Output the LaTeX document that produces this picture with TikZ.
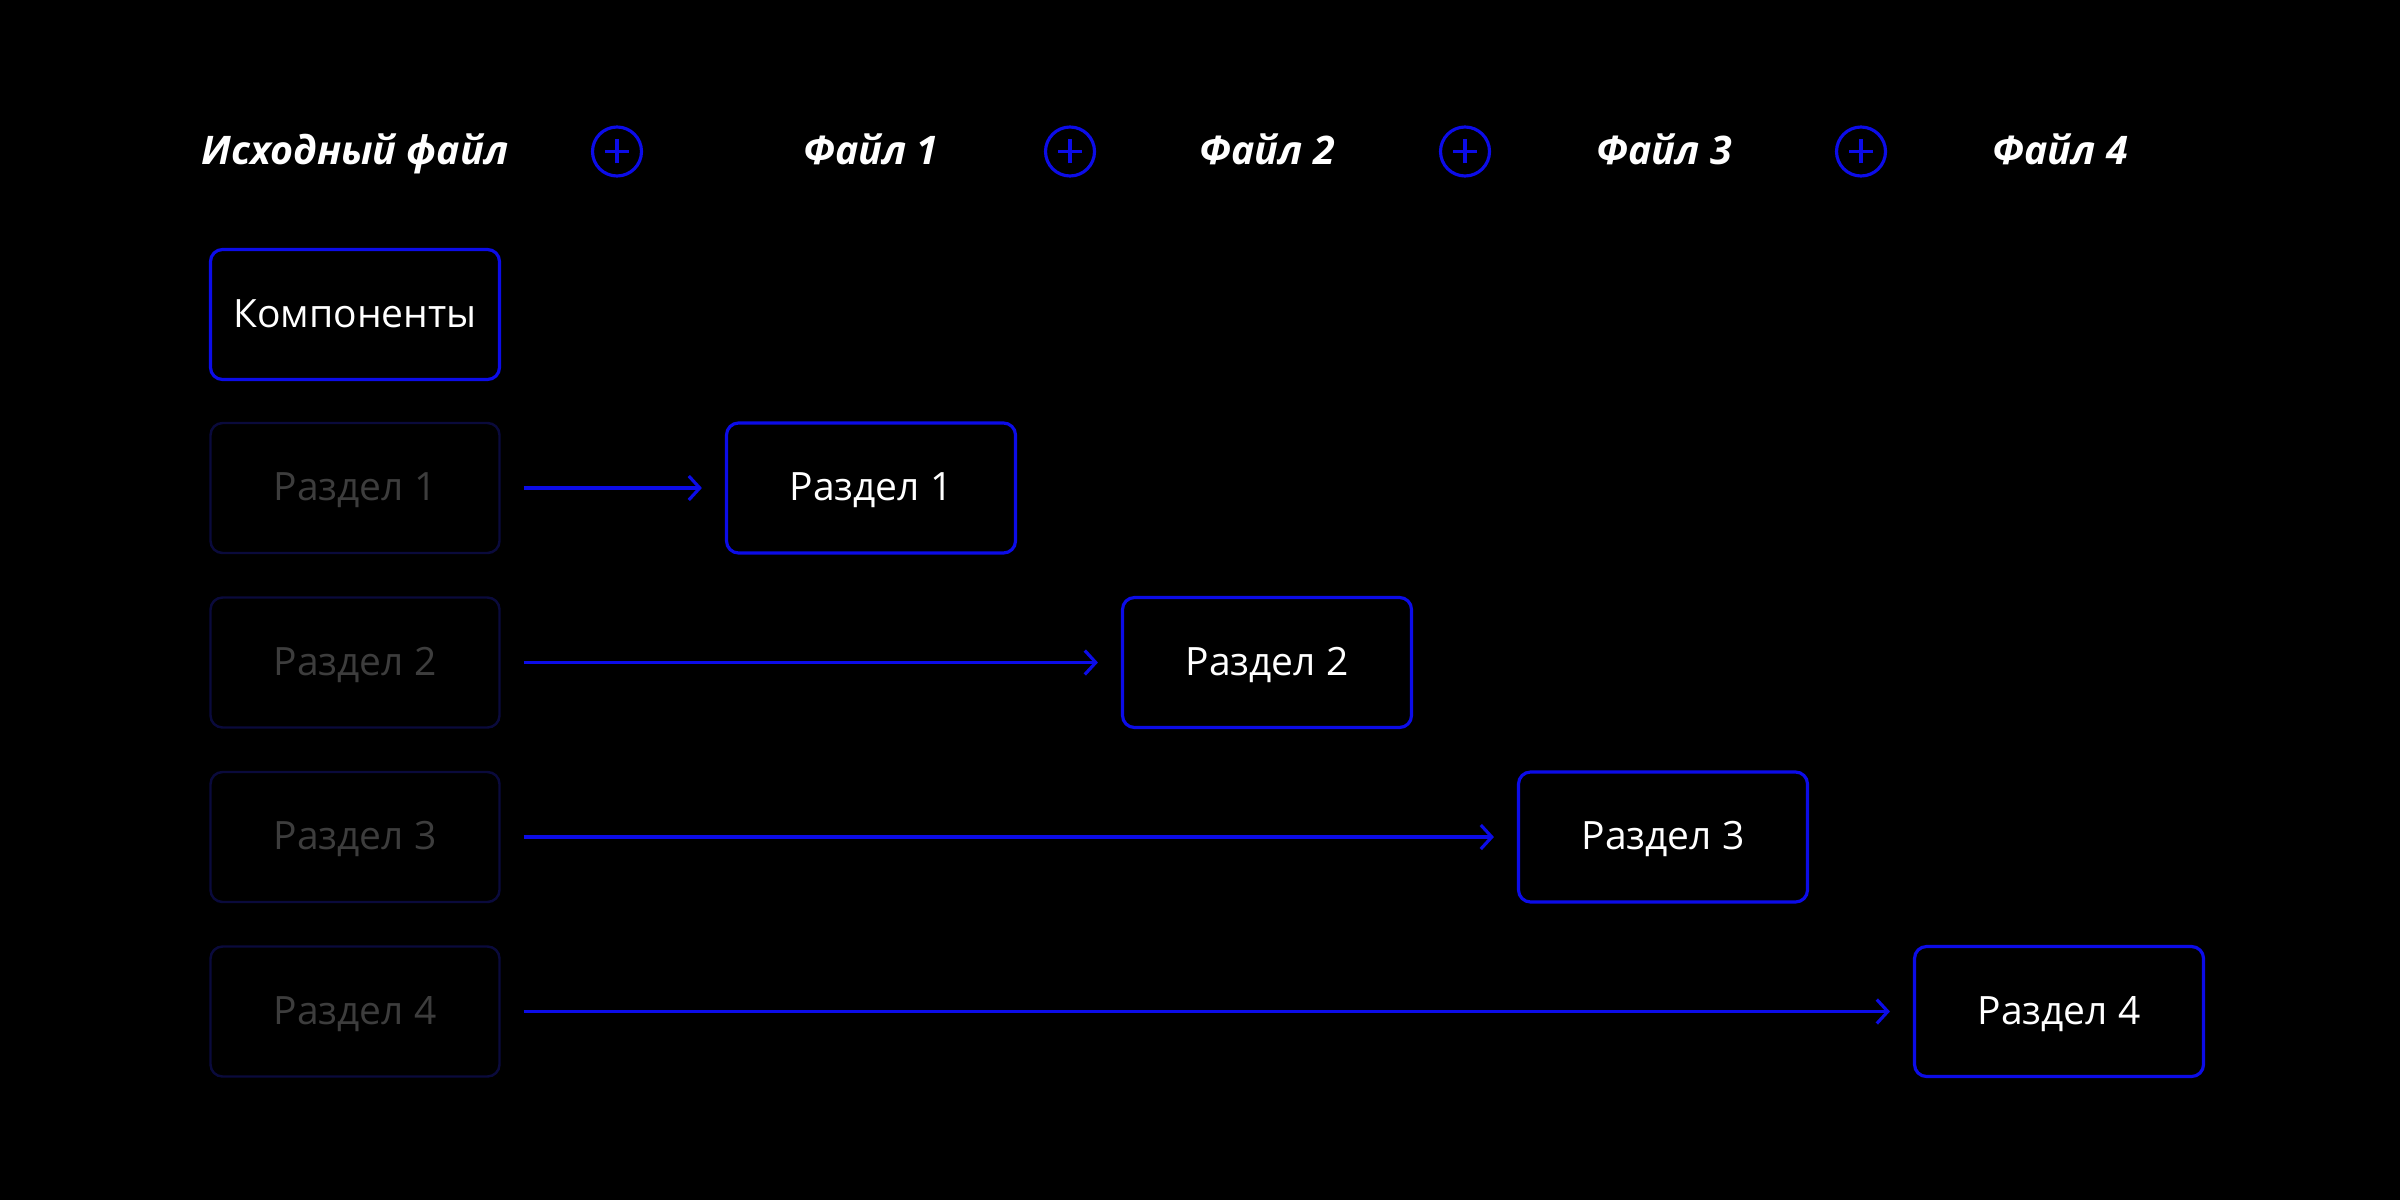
\documentclass[tikz,border=0pt]{standalone}
\usepackage{fontspec}
\setmainfont{Open Sans}
\usetikzlibrary{arrows.meta,positioning}

\begin{document}
\begin{tikzpicture}[
        box/.style={draw=bblue, line width=0.9pt, rounded corners=1.2mm,
            minimum width=2.89cm, minimum height=1.3cm, text=white,
            text height=1.33ex, text depth=0pt,
            font=\fontsize{11.1}{13}\selectfont},
        oldbox/.style={box, draw=dblue, line width=0.7pt, text=gtext},
        head/.style={text=white, text height=1.33ex, text depth=0pt,
            font=\fontsize{11.2}{13}\selectfont\bfseries\itshape},
        plus/.style={circle, draw=bblue, line width=0.9pt, minimum size=4.9mm, inner sep=0pt},
        arr/.style={bblue, line width=0.9pt, -{Straight Barb[length=1.1mm,width=2.4mm]}}
    ]
        %colores
        \definecolor{bblue}{RGB}{12,12,232}
        \definecolor{dblue}{RGB}{10,10,60}
        \colorlet{gtext}{white!24!black}

        % fondo
        \fill[black] (0,0) rectangle (24,12);

        % cabecera
        \node[head] (src) at (3.55,10.485) {Исходный файл};
        \foreach \i/\x in {1/8.71, 2/12.67, 3/16.64, 4/20.60}
            \node[head] (f\i) at (\x,10.485) {Файл \i};
        \foreach \i/\x in {1/6.17, 2/10.70, 3/14.65, 4/18.61}{
            \node[plus] (p\i) at (\x,10.485) {};
            \draw[bblue, line width=0.9pt] ([yshift=-1.2mm]p\i.center) -- ([yshift=1.2mm]p\i.center)
                ([xshift=-1.2mm]p\i.center) -- ([xshift=1.2mm]p\i.center);
        }

        % componentes
        \node[box] (comp) at (3.55,8.855) {Компоненты};

        % secciones y flechas
        \foreach \i in {1,...,4}{
            \node[oldbox] (old\i) at (3.55,{7.12-(\i-1)*1.745}) {Раздел \i};
            \node[box] (new\i) at ({8.71+(\i-1)*3.96},{7.12-(\i-1)*1.745}) {Раздел \i};
            \draw[arr] ([xshift=2.3mm]old\i.east) -- ([xshift=-2.3mm]new\i.west);
        }
    \end{tikzpicture}
\end{document}
